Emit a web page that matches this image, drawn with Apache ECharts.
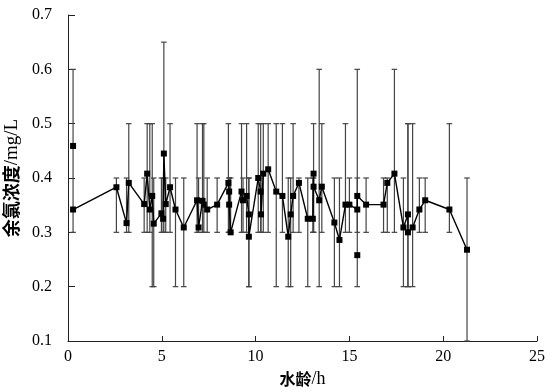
<!DOCTYPE html>
<html>
<head>
<meta charset="utf-8">
<script src="https://cdn.jsdelivr.net/npm/echarts@6/dist/echarts.min.js"></script>
<style>
  html, body { margin: 0; padding: 0; background: #fff; }
  #chart { width: 554px; height: 392px; }
</style>
</head>
<body>
<div id="chart"></div>
<script>
// Connected series (water age h, residual chlorine mg/L)
const lineX = [0.27, 2.58, 3.12, 3.24, 4.06, 4.22, 4.36, 4.49, 4.57, 4.98, 5.07, 5.11, 5.21, 5.44, 5.73, 6.17,
  6.88, 6.96, 7.17, 7.24, 7.42, 7.95, 8.55, 8.59, 8.59, 8.67, 9.25, 9.33, 9.52, 9.64, 9.64,
  10.14, 10.27, 10.29, 10.41, 10.67, 11.10, 11.43, 11.74, 11.87, 12.00, 12.31, 12.78, 13.05, 13.09, 13.09,
  13.39, 13.53, 14.20, 14.47, 14.79, 15.00, 15.42, 15.42, 15.89, 16.82, 17.02, 17.40, 17.88, 18.12, 18.12,
  18.37, 18.73, 19.04, 20.33, 21.27];
const lineY = [0.342, 0.383, 0.317, 0.391, 0.352, 0.408, 0.342, 0.367, 0.316, 0.335, 0.325, 0.445, 0.352, 0.383, 0.342, 0.309,
  0.359, 0.309, 0.358, 0.351, 0.342, 0.351, 0.391, 0.375, 0.351, 0.300, 0.375, 0.359, 0.367, 0.333, 0.292,
  0.400, 0.375, 0.333, 0.408, 0.416, 0.375, 0.367, 0.292, 0.333, 0.367, 0.391, 0.325, 0.325, 0.408, 0.384,
  0.359, 0.384, 0.318, 0.286, 0.351, 0.351, 0.342, 0.367, 0.351, 0.351, 0.391, 0.408, 0.309, 0.333, 0.300,
  0.309, 0.342, 0.359, 0.342, 0.268];
const errLow = [0.3, 0.3, 0.3, 0.3, 0.3, 0.3, 0.3, 0.2, 0.2, 0.3, 0.3, 0.3, 0.3, 0.3, 0.2, 0.2,
  0.3, 0.3, 0.3, 0.3, 0.3, 0.3, 0.3, 0.3, 0.3, 0.3, 0.3, 0.3, 0.3, 0.2, 0.2,
  0.3, 0.3, 0.3, 0.3, 0.3, 0.2, 0.3, 0.2, 0.2, 0.3, 0.3, 0.2, 0.3, 0.3, 0.3,
  0.2, 0.3, 0.2, 0.2, 0.3, 0.3, 0.2, 0.3, 0.3, 0.3, 0.3, 0.3, 0.2, 0.2, 0.2,
  0.2, 0.3, 0.3, 0.3, 0.1];
const errHigh = [0.6, 0.4, 0.4, 0.5, 0.4, 0.5, 0.5, 0.5, 0.4, 0.4, 0.4, 0.65, 0.4, 0.5, 0.4, 0.4,
  0.5, 0.4, 0.5, 0.5, 0.4, 0.4, 0.5, 0.4, 0.4, 0.4, 0.5, 0.4, 0.5, 0.4, 0.4,
  0.5, 0.5, 0.4, 0.5, 0.5, 0.5, 0.5, 0.4, 0.4, 0.5, 0.4, 0.4, 0.4, 0.5, 0.4,
  0.6, 0.5, 0.4, 0.4, 0.5, 0.4, 0.6, 0.4, 0.4, 0.4, 0.4, 0.6, 0.4, 0.5, 0.5,
  0.5, 0.4, 0.4, 0.5, 0.4];
// Isolated (unconnected) points
const soloX = [0.27, 15.42];
const soloY = [0.459, 0.258];
// Axis ticks
const xTicks = [0, 5, 10, 15, 20, 25];
const yTicks = [0.1, 0.2, 0.3, 0.4, 0.5, 0.6, 0.7];

const latin = "'Liberation Serif', 'Times New Roman', serif";
const cjk = "'Noto Sans CJK SC', sans-serif";

const chart = echarts.init(document.getElementById('chart'), null, { renderer: 'canvas' });

function renderErr(params, api) {
  const x = api.value(0), lo = api.value(1), hi = api.value(2);
  const p1 = api.coord([x, hi]);
  const p2 = api.coord([x, lo]);
  const hw = 2.8;
  const st = { stroke: '#444', lineWidth: 1.2 };
  return {
    type: 'group',
    children: [
      { type: 'line', shape: { x1: p1[0], y1: p1[1], x2: p2[0], y2: p2[1] }, style: st },
      { type: 'line', shape: { x1: p1[0] - hw, y1: p1[1], x2: p1[0] + hw, y2: p1[1] }, style: st },
      { type: 'line', shape: { x1: p2[0] - hw, y1: p2[1], x2: p2[0] + hw, y2: p2[1] }, style: st }
    ]
  };
}

chart.setOption({
  animation: false,
  backgroundColor: '#ffffff',
  grid: { left: 68, right: 17, top: 15, bottom: 51, containLabel: false, outerBoundsMode: 'none' },
  xAxis: {
    type: 'value', min: xTicks[0], max: xTicks[xTicks.length - 1], interval: 5,
    axisLine: { show: true, lineStyle: { color: '#222', width: 1 } },
    axisTick: { show: true, inside: true, length: 5, lineStyle: { color: '#222' } },
    axisLabel: { color: '#000', fontFamily: latin, fontSize: 16, margin: 8 },
    splitLine: { show: false },
    name: '{a|水龄}{b|/h}',
    nameLocation: 'middle', nameGap: 26,
    nameTextStyle: {
      rich: {
        a: { fontFamily: cjk, fontSize: 16, fontWeight: 'bold', color: '#000' },
        b: { fontFamily: latin, fontSize: 18, color: '#000' }
      }
    }
  },
  yAxis: {
    type: 'value', min: yTicks[0], max: yTicks[yTicks.length - 1], interval: 0.1,
    axisLine: { show: true, lineStyle: { color: '#222', width: 1 } },
    axisTick: { show: true, inside: true, length: 7, lineStyle: { color: '#222' } },
    axisLabel: { color: '#000', fontFamily: latin, fontSize: 16, margin: 16,
      formatter: v => Number(v).toFixed(1) },
    splitLine: { show: false },
    name: '{a|余氯浓度}{b|/mg/L}',
    nameLocation: 'middle', nameGap: 38, nameRotate: 90,
    nameTextStyle: {
      rich: {
        a: { fontFamily: cjk, fontSize: 18, fontWeight: 'bold', color: '#000' },
        b: { fontFamily: latin, fontSize: 19, color: '#000' }
      }
    }
  },
  series: [
    {
      type: 'custom', renderItem: renderErr, z: 1, silent: true,
      data: lineX.map((x, i) => [x, errLow[i], errHigh[i]])
    },
    {
      type: 'line', z: 3,
      data: lineX.map((x, i) => [x, lineY[i]]),
      symbol: 'rect', symbolSize: 6, showSymbol: true,
      lineStyle: { color: '#000', width: 1.4 },
      itemStyle: { color: '#000', opacity: 1 }
    },
    {
      type: 'scatter', z: 4,
      data: soloX.map((x, i) => [x, soloY[i]]),
      symbol: 'rect', symbolSize: 6,
      itemStyle: { color: '#000', opacity: 1 }
    }
  ]
});
</script>
</body>
</html>
